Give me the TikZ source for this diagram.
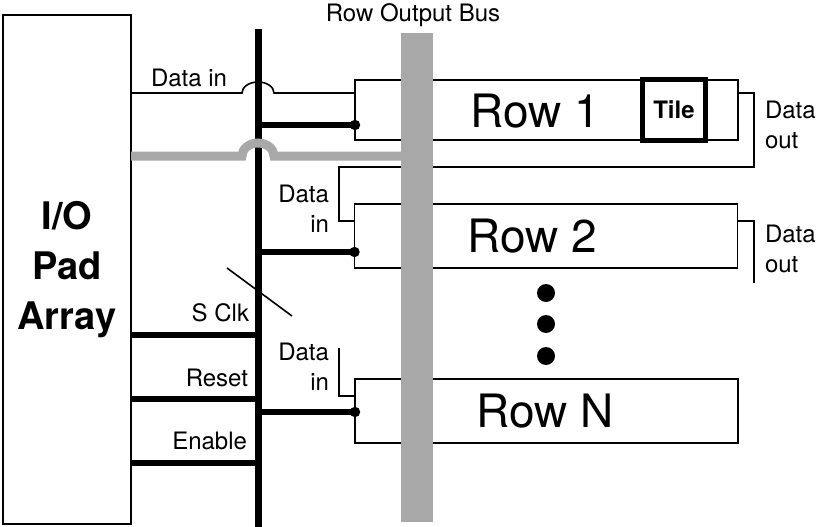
\documentclass[tikz,border=0pt]{standalone}
\usepackage{fontspec}
\setmainfont{TeX Gyre Heros}
\usepackage{xcolor}
\usetikzlibrary{positioning,calc,arrows.meta}
\definecolor{busgray}{gray}{0.66}

\begin{document}
\begin{tikzpicture}[x=1pt, y=-1pt,
    every node/.style={font=\fontsize{24}{30}\selectfont, inner sep=0pt, outer sep=0pt},
    thinline/.style={line width=1.6pt},
    feed/.style={line width=6pt},
    rowbox/.style={draw, line width=1.6pt, minimum width=383pt, minimum height=#1},
    rowlbl/.style={font=\fontsize{46}{50}\selectfont}]
  \useasboundingbox (0,0) rectangle (817,527);

  % pad array and the vertical control bus
  \node[draw, line width=2pt, minimum width=128pt, minimum height=509pt,
        align=center, font=\fontsize{38}{50}\selectfont\bfseries] (io)
        at (67,269.5) {I/O\\Pad\\Array};
  \coordinate (bustop) at (258,29);
  \coordinate (busbot) at (258,527);
  \draw[line width=7pt] (bustop) -- (busbot);

  % rows
  \node[rowbox=60pt] (row1) at (546.5,110) {};
  \node[rowbox=64pt] (row2) at (546,236) {};
  \node[rowbox=64pt] (rowN) at (546.5,411) {};

  % data chain between rows
  \coordinate (loop1) at (754,167);
  \coordinate (chain2) at (339,221);
  \coordinate (out2) at (754,283);
  \coordinate (chainN) at (339,348);
  \draw[thinline] (row1.east |- 0,93) -| (loop1) -| (chain2) -- (row2.west |- chain2);
  \draw[thinline] (row2.east |- chain2) -| (out2);
  \draw[thinline] (chainN) |- (rowN.west |- 0,396);

  % row output bus
  \node[fill=busgray, minimum width=32pt, minimum height=489pt] (obus) at (417,277.5) {};
  \node (obuslbl) at (413,15) {Row Output Bus};
  \coordinate (hop2) at (242,156);
  \draw[busgray, line width=9pt] (io.east |- hop2) -- (hop2)
      arc[start angle=180, end angle=360, x radius=16, y radius=13] -- (obus.west |- hop2);

  % data in, hopping over the bus
  \coordinate (hop1) at (242,93);
  \draw[thinline] (io.east |- hop1) -- (hop1)
      arc[start angle=180, end angle=360, x radius=16, y radius=11] -- (row1.west |- hop1);

  % bus to rows
  \foreach \rw/\y in {row1/125, row2/252, rowN/412}
    \draw[feed, -{Circle[length=10pt, width=10pt, sep=-5pt]}] (bustop |- 0,\y) -- (\rw.west |- 0,\y);

  % pad array to bus
  \foreach \y in {335, 399, 463}
    \draw[feed] (io.east |- 0,\y) -- (bustop |- 0,\y);

  \coordinate (clka) at (227,268);
  \coordinate (clkb) at (292,316);
  \draw[thinline] (clka) -- (clkb);

  \node[draw, line width=5pt, fill=white, minimum width=63pt, minimum height=61pt,
        font=\fontsize{24}{28}\selectfont\bfseries] (tile) at (674,110) {Tile};

  \node[rowlbl] (row1lbl) at (535,111) {Row 1};
  \node[rowlbl] (row2lbl) at (532,236) {Row 2};
  \node[rowlbl] (rowNlbl) at (545,411) {Row N};
  \foreach \y in {293, 324, 356}
    \fill (546,\y) circle[radius=9pt];

  \node[anchor=west] (din1) at (151,78) {Data in};
  \node[anchor=east, align=right] (din2) at (329,209) {Data\\in};
  \node[anchor=east, align=right] (dinN) at (329,367) {Data\\in};
  \node[anchor=west, align=left] (dout1) at (765,125) {Data\\out};
  \node[anchor=west, align=left] (dout2) at (765,249) {Data\\out};

  \node[anchor=east] (sclk) at (249,313) {S Clk};
  \node[anchor=east] (reset) at (248,378) {Reset};
  \node[anchor=east] (enable) at (247,441) {Enable};
\end{tikzpicture}
\end{document}
